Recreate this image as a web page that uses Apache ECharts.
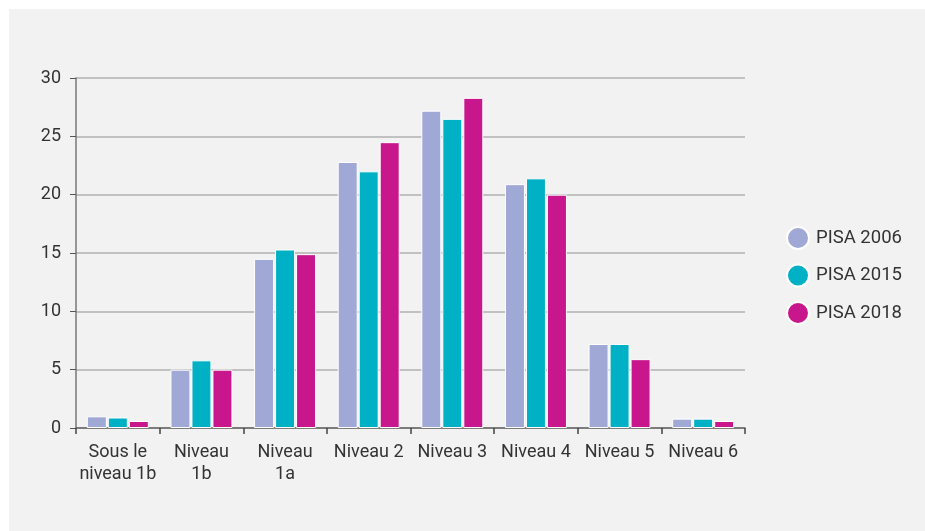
<!DOCTYPE html>
<html>
<head>
<meta charset="utf-8">
<script src="https://cdn.jsdelivr.net/npm/echarts@6/dist/echarts.min.js"></script>
<style>
html,body{margin:0;padding:0;background:#ffffff;width:925px;height:531px;overflow:hidden;}
#panel{position:absolute;left:9px;top:9px;width:916px;height:522px;background:#f2f2f2;}
#chart{width:916px;height:522px;}
</style>
</head>
<body>
<div id="panel"><div id="chart"></div></div>
<script>
const categories = ["Sous le\nniveau 1b", "Niveau\n1b", "Niveau\n1a", "Niveau 2", "Niveau 3", "Niveau 4", "Niveau 5", "Niveau 6"];
const seriesNames = ["PISA 2006", "PISA 2015", "PISA 2018"];
const pisa2006 = [1.0, 5.0, 14.5, 22.8, 27.2, 20.9, 7.2, 0.8];
const pisa2015 = [0.9, 5.8, 15.3, 22.0, 26.5, 21.4, 7.2, 0.8];
const pisa2018 = [0.6, 5.0, 14.9, 24.5, 28.3, 20.0, 5.9, 0.6];
const colors = ["#a0a8d6", "#00b0c4", "#c8178c"];

const chart = echarts.init(document.getElementById('chart'), null, {renderer: 'canvas'});
const font = 'Roboto, "Noto Sans", sans-serif';
const mk = (name, data, color) => ({
  name: name, type: 'bar', data: data, barWidth: 20, barGap: '5%',
  itemStyle: {color: color, borderColor: '#ffffff', borderWidth: 1},
  emphasis: {disabled: true}
});
chart.setOption({
  animation: false,
  backgroundColor: '#f2f2f2',
  textStyle: {fontFamily: font},
  grid: {left: 67, right: 180, top: 69, bottom: 103},
  legend: {
    orient: 'vertical', left: 777, top: 217, padding: 0,
    icon: 'circle', itemWidth: 22, itemHeight: 22, itemGap: 13.5,
    textStyle: {fontSize: 18.5, color: '#333333', fontFamily: font, padding: [0, 0, 0, 2]},
    data: seriesNames
  },
  xAxis: {
    type: 'category', data: categories,
    axisLine: {lineStyle: {color: '#666666', width: 1.5}},
    axisTick: {show: true, length: 6, lineStyle: {color: '#444444', width: 1.5}},
    axisLabel: {fontSize: 18, color: '#333333', lineHeight: 22, margin: 13, interval: 0, fontFamily: font}
  },
  yAxis: {
    type: 'value', min: 0, max: 30, interval: 5,
    axisLine: {show: true, lineStyle: {color: '#777777', width: 1.5}},
    axisTick: {show: true, length: 6, lineStyle: {color: '#555555'}},
    axisLabel: {fontSize: 18, color: '#333333', margin: 15, fontFamily: font},
    splitLine: {lineStyle: {color: '#b0b0b0', width: 1.5}}
  },
  series: [mk(seriesNames[0], pisa2006, colors[0]), mk(seriesNames[1], pisa2015, colors[1]), mk(seriesNames[2], pisa2018, colors[2])]
});
</script>
</body>
</html>
